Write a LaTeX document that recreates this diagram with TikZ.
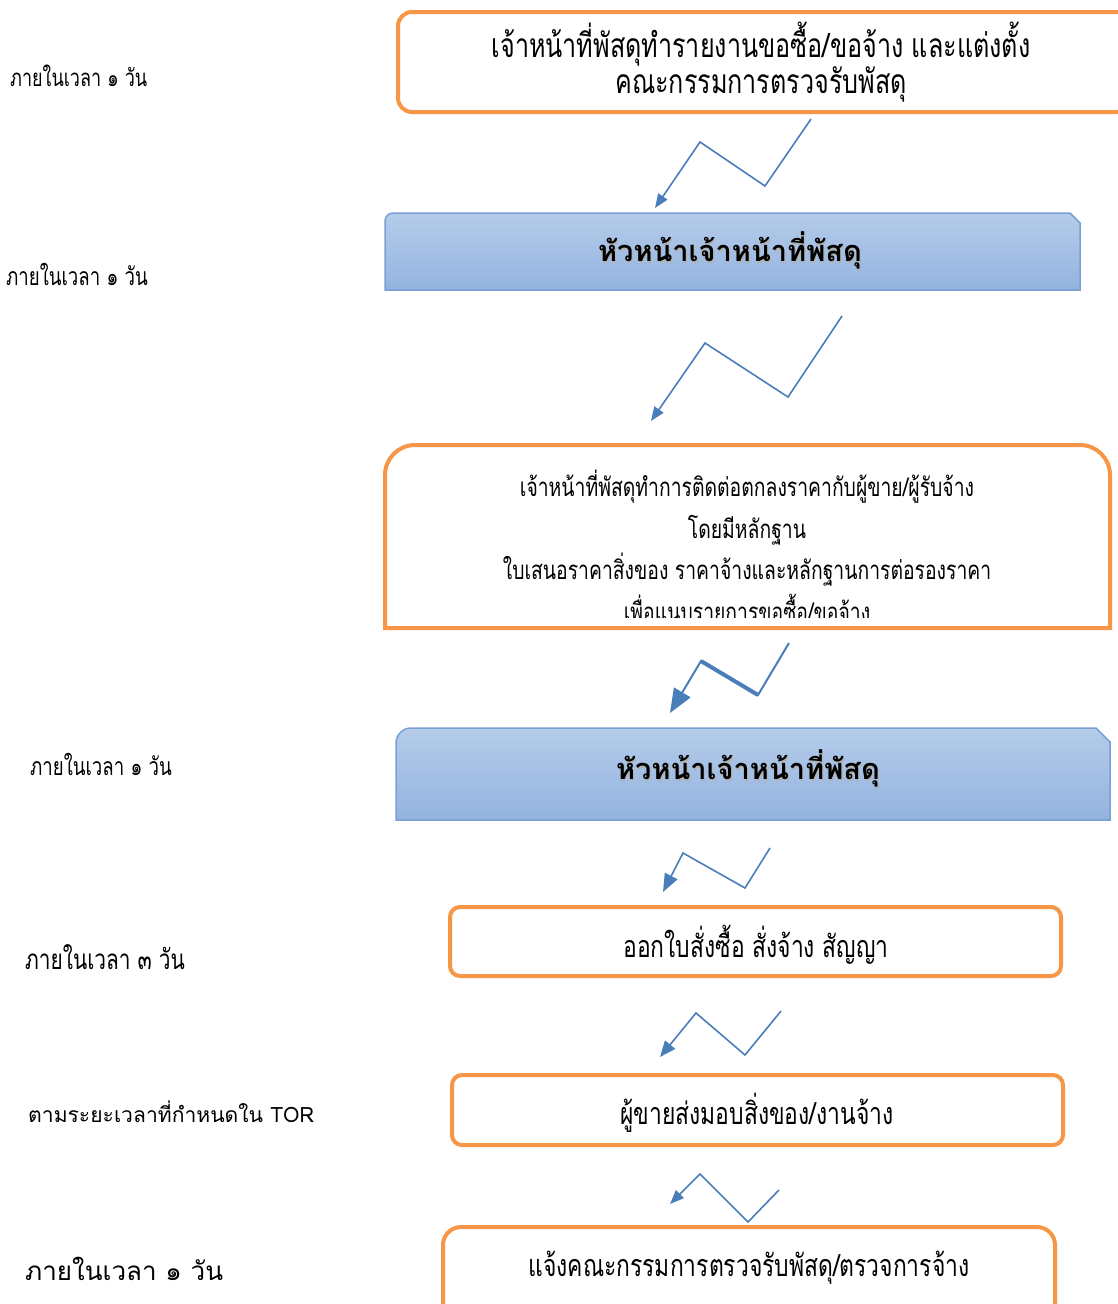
\documentclass[tikz,border=0pt]{standalone}
\usepackage{fontspec}
\usetikzlibrary{arrows.meta}
% condensed Thai face for the boxes and the timing notes, plain face for the lower notes
\newfontfamily\thn[Script=Thai,FakeStretch=0.75]{Loma}
\newfontfamily\thw[Script=Thai]{Loma}
\definecolor{boxorange}{HTML}{F79646}
\definecolor{flowblue}{HTML}{4A7EBB}
\definecolor{headtop}{HTML}{B5CCEA}
\definecolor{headbot}{HTML}{93B3DF}
\definecolor{headline}{HTML}{79A0D5}
\tikzset{
  stepframe/.style={draw=boxorange, line width=4pt, fill=white},
  headframe/.style={draw=headline, line width=1.5pt, top color=headtop, bottom color=headbot},
  boxtext/.style={inner sep=0pt, align=center, font=\thn\fontsize{30.5}{36}\selectfont},
  headtext/.style={inner sep=0pt, font=\thw\bfseries\fontsize{29}{34}\selectfont},
  timetext/.style={inner sep=0pt, anchor=west, font=\thn\fontsize{24.8}{28}\selectfont},
  zig/.style={draw=flowblue, line width=1.6pt, line join=miter, -{Triangle[length=14pt,width=11pt]}},
}
\begin{document}
\begin{tikzpicture}[x=1pt,y=-1pt]
\useasboundingbox (0,0) rectangle (1118,1304);
\clip (0,0) rectangle (1118,1304);

% ---- step frames ----
\draw[stepframe, rounded corners=14pt] (398,12) rectangle (1130,112);
\path[headframe] (385,290) -- (385,221) arc[start angle=180,end angle=270,radius=8] -- (1070,213) -- (1080,223) -- (1080,290) -- cycle;
\draw[stepframe] (385,628) -- (385,475) arc[start angle=180,end angle=270,radius=30] -- (1080,445) arc[start angle=270,end angle=360,radius=30] -- (1110,628) -- cycle;
\path[headframe] (396,820) -- (396,743) arc[start angle=180,end angle=270,radius=15] -- (1096,728) -- (1110,742) -- (1110,820) -- cycle;
\draw[stepframe, rounded corners=10pt] (450,907) rectangle (1061,976);
\draw[stepframe, rounded corners=10pt] (452,1075) rectangle (1063,1145);
\draw[stepframe, rounded corners=18pt] (443,1227) rectangle (1055,1330);

% ---- step texts ----
\node[boxtext, font=\thn\fontsize{33.5}{31}\selectfont] (s1) at (761,62)
  {เจ้าหน้าที่พัสดุทำรายงานขอซื้อ/ขอจ้าง และแต่งตั้ง\\คณะกรรมการตรวจรับพัสดุ};
\node[headtext, text=black!30] at (731,252) {หัวหน้าเจ้าหน้าที่พัสดุ};
\node[headtext] (s2) at (730,250) {หัวหน้าเจ้าหน้าที่พัสดุ};
\begin{scope}
  \clip (385,445) rectangle (1110,617);
  \node[boxtext, anchor=north, font=\thn\fontsize{25.8}{41.5}\selectfont] (s3) at (747,470)
    {เจ้าหน้าที่พัสดุทำการติดต่อตกลงราคากับผู้ขาย/ผู้รับจ้าง\\
     โดยมีหลักฐาน\\
     ใบเสนอราคาสิ่งของ ราคาจ้างและหลักฐานการต่อรองราคา\\
     เพื่อแนบรายการขอซื้อ/ขอจ้าง};
\end{scope}
\node[headtext, text=black!30] at (749,770) {หัวหน้าเจ้าหน้าที่พัสดุ};
\node[headtext] (s4) at (748,768) {หัวหน้าเจ้าหน้าที่พัสดุ};
\node[boxtext] (s5) at (756,945) {ออกใบสั่งซื้อ สั่งจ้าง สัญญา};
\node[boxtext] (s6) at (757,1113) {ผู้ขายส่งมอบสิ่งของ/งานจ้าง};
\node[boxtext] (s7) at (749,1268) {แจ้งคณะกรรมการตรวจรับพัสดุ/ตรวจการจ้าง};

% ---- timing notes ----
\node[timetext, font=\thn\fontsize{24}{28}\selectfont] (n1) at (10,76) {ภายในเวลา ๑ วัน};
\node[timetext] (n2) at (6,274) {ภายในเวลา ๑ วัน};
\node[timetext] (n3) at (30,764) {ภายในเวลา ๑ วัน};
\node[timetext, font=\thn\fontsize{27.8}{30}\selectfont] (n4) at (25,957) {ภายในเวลา ๓ วัน};
\node[timetext, font=\thw\fontsize{21.1}{26}\selectfont] (n5) at (28,1112) {ตามระยะเวลาที่กำหนดใน TOR};
\node[timetext, font=\thw\fontsize{26}{32}\selectfont] (n6) at (25,1269) {ภายในเวลา ๑ วัน};

% ---- zig-zag connector ends ----
\coordinate (a1s) at (811,119); \coordinate (a1b) at (765,186); \coordinate (a1c) at (700,142); \coordinate (a1e) at (655,208);
\coordinate (a2s) at (842,316); \coordinate (a2b) at (788,397); \coordinate (a2c) at (705,343); \coordinate (a2e) at (651,421);
\coordinate (a3s) at (789,643); \coordinate (a3b) at (758,695); \coordinate (a3c) at (701,661); \coordinate (a3e) at (670,713);
\coordinate (a4s) at (770,848); \coordinate (a4b) at (745,888); \coordinate (a4c) at (683,853); \coordinate (a4e) at (663,892);
\coordinate (a5s) at (781,1011); \coordinate (a5b) at (745,1055); \coordinate (a5c) at (696,1013); \coordinate (a5e) at (660,1057);
\coordinate (a6s) at (779,1190); \coordinate (a6b) at (748,1222); \coordinate (a6c) at (700,1174); \coordinate (a6e) at (670,1204);

% ---- zig-zag connectors ----
\draw[zig] (a1s) -- (a1b) -- (a1c) -- (a1e);
\draw[zig] (a2s) -- (a2b) -- (a2c) -- (a2e);
\draw[draw=flowblue, line width=4pt] (a3b) -- (a3c);
\draw[zig, line width=2pt, -{Triangle[length=24pt,width=19pt]}] (a3s) -- (a3b) -- (a3c) -- (a3e);
\draw[zig, -{Triangle[length=18pt,width=14pt]}] (a4s) -- (a4b) -- (a4c) -- (a4e);
\draw[zig, -{Triangle[length=16pt,width=13pt]}] (a5s) -- (a5b) -- (a5c) -- (a5e);
\draw[zig] (a6s) -- (a6b) -- (a6c) -- (a6e);
\end{tikzpicture}
\end{document}
